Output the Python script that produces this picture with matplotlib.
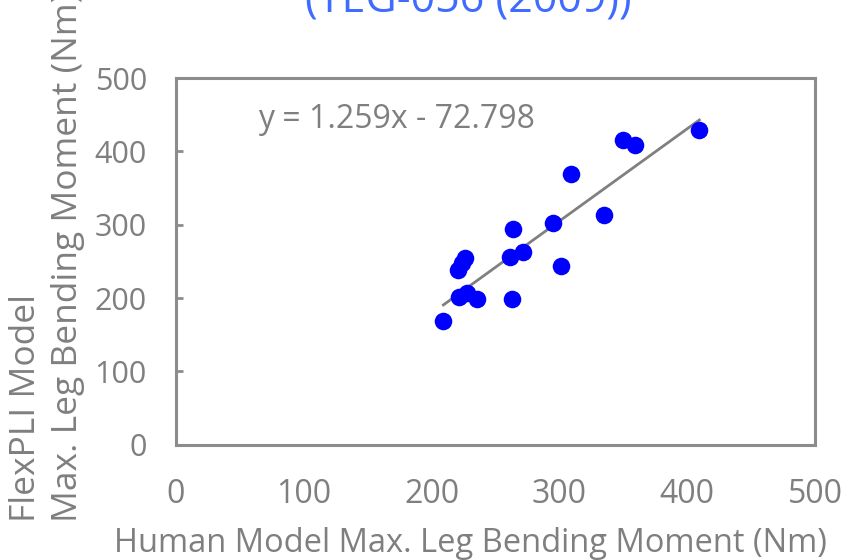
import matplotlib
matplotlib.use("Agg")
import matplotlib.pyplot as plt
import numpy as np

# Human model vs FlexPLI model max. leg bending moment (Nm)
human_nm = [209.2, 221.7, 227.5, 235.8, 220.9, 223.6, 226.1, 262.7, 261.4,
            271.8, 263.9, 294.8, 301.5, 334.9, 309.3, 349.5, 359.2, 409.5]
flexpli_nm = [169.1, 201.0, 206.4, 198.7, 238.2, 247.3, 254.2, 198.7, 255.5,
              263.2, 294.1, 301.9, 243.7, 313.2, 369.1, 415.5, 408.6, 429.0]
slope = 1.259
intercept = -72.798
ticks = [0, 100, 200, 300, 400, 500]

plt.rcParams["font.family"] = ["Open Sans", "DejaVu Sans"]
gray = "#7f7f7f"

fig = plt.figure(figsize=(8.42, 5.6), dpi=100)
ax = fig.add_axes([176 / 842, 1 - 444.7 / 560, (815 - 176) / 842, (444.7 - 78) / 560])

ax.scatter(human_nm, flexpli_nm, s=160, color="#0000ff", zorder=3, linewidths=0)

# linear trendline over the data range
xs = np.array([min(human_nm), max(human_nm)])
ax.plot(xs, slope * xs + intercept, color="#808080", lw=2.0, zorder=2)
ax.text(64, 443, "y = 1.259x - 72.798", fontsize=23, color=gray, va="center")

ax.set_xlim(0, 500)
ax.set_ylim(0, 500)
ax.set_xticks(ticks)
ax.set_yticks(ticks)
for s in ax.spines.values():
    s.set_color("#8c8c8c")
    s.set_linewidth(2.2)
ax.tick_params(axis="x", length=0, labelsize=23, labelcolor=gray, pad=24)
ax.tick_params(axis="y", direction="in", length=5, width=2, color="#8c8c8c",
               labelsize=22, labelcolor=gray, pad=21)

fig.text(47 / 842, 1 - 522 / 560, "FlexPLI Model\nMax. Leg Bending Moment (Nm)",
         fontsize=25.5, color=gray, rotation=90, ha="center", va="bottom",
         multialignment="left", linespacing=1.3)
fig.text(470 / 842, 1 - 543 / 560, "Human Model Max. Leg Bending Moment (Nm)",
         fontsize=23.5, color=gray, ha="center", va="center")
fig.text(468 / 842, 1 - 13 / 560, "(TEG-056 (2009))", fontsize=31,
         color="#3f6bff", ha="center", va="baseline")

fig.savefig("out.png", dpi=100)
